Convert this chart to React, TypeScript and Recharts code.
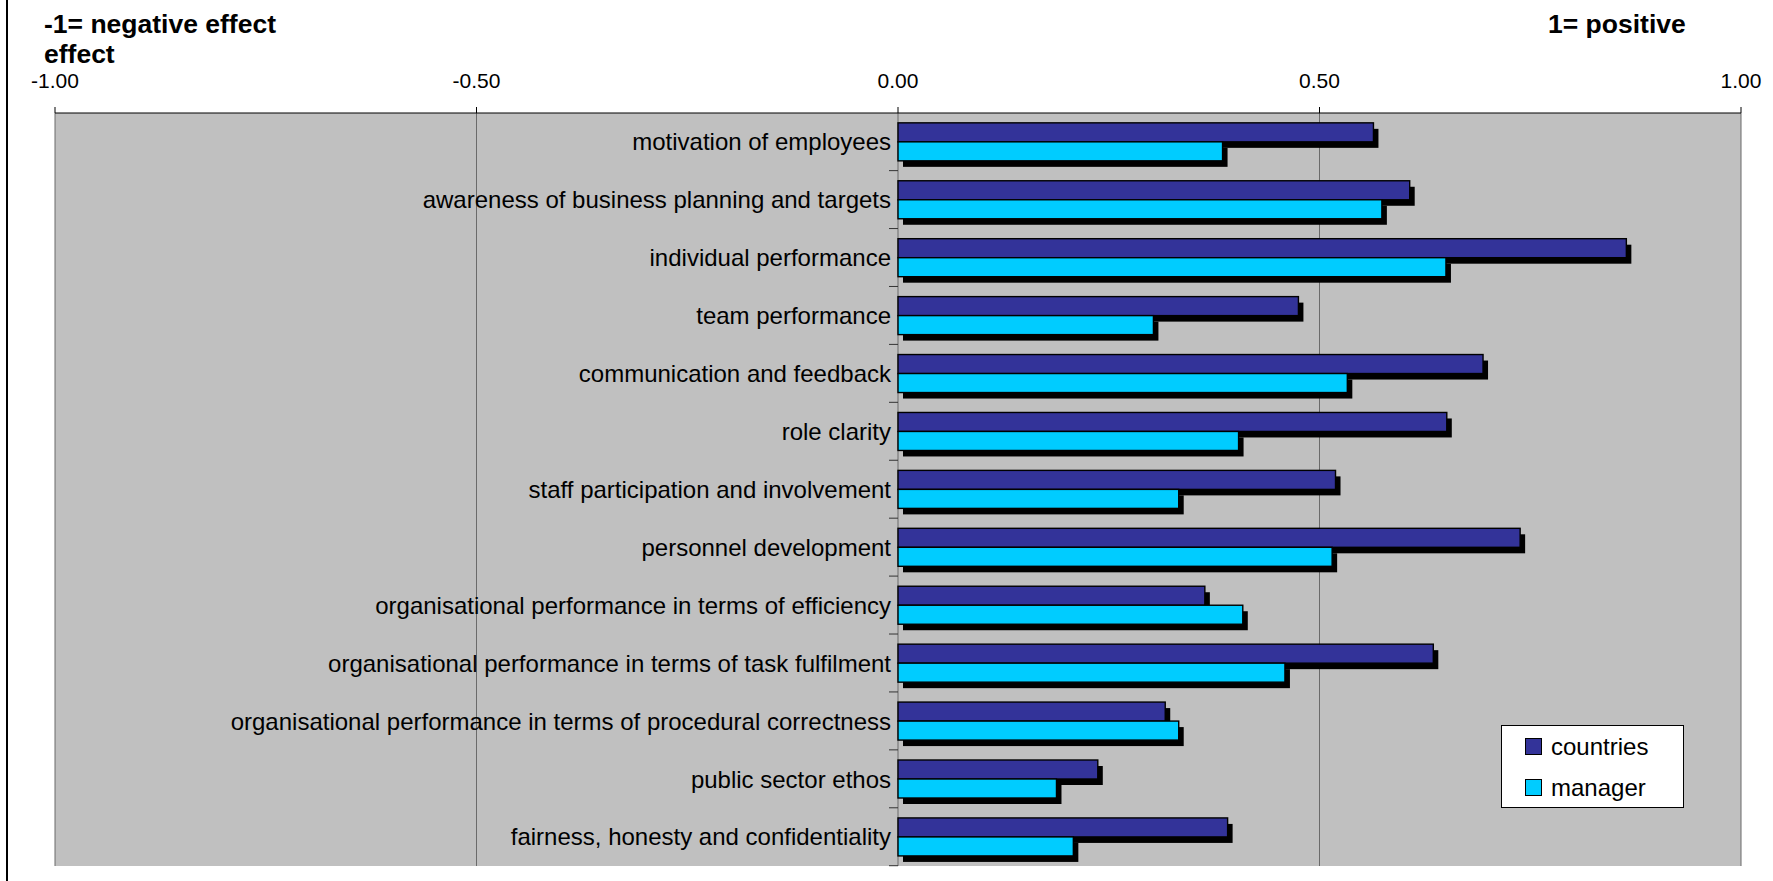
import { BarChart, Bar, XAxis, YAxis, CartesianGrid, Legend, LabelList } from "recharts";

const categories = [
  "motivation of employees",
  "awareness of business planning and targets",
  "individual performance",
  "team performance",
  "communication and feedback",
  "role clarity",
  "staff participation and involvement",
  "personnel development",
  "organisational performance in terms of efficiency",
  "organisational performance in terms of task fulfilment",
  "organisational performance in terms of procedural correctness",
  "public sector ethos",
  "fairness, honesty and confidentiality",
];

const countries = [0.564, 0.607, 0.864, 0.475, 0.694, 0.651, 0.519, 0.738, 0.364, 0.635, 0.317, 0.237, 0.391];
const manager = [0.385, 0.574, 0.65, 0.303, 0.533, 0.404, 0.333, 0.515, 0.409, 0.459, 0.333, 0.188, 0.208];

const xTicks = [-1, -0.5, 0, 0.5, 1];

const series = [
  { key: "countries", name: "countries", color: "#333399" },
  { key: "manager", name: "manager", color: "#00CCFF" },
];

const data = categories.map((name, i) => ({ name, countries: countries[i], manager: manager[i] }));

const FONT = '"Liberation Sans", Arial, Helvetica, sans-serif';

// bar with a hard black drop shadow, like the old Excel chart
const ShadowBar = (props: any) => {
  const { x, y, width, height, fill } = props;
  if (!width || width <= 0) return null;
  return (
    <g>
      <rect x={x + 5} y={y + 6} width={width} height={height} fill="#000" />
      <rect x={x} y={y} width={width} height={height} fill={fill} stroke="#000" strokeWidth={1.4} />
    </g>
  );
};

// category name sits just left of the zero line, plus a small tick at the band's lower edge
const CategoryLabel = (props: any) => {
  const vb = props.viewBox ?? props;
  const { x, y, height } = vb;
  const gap = (height * 17) / 33;
  const mid = y + height;
  const bottom = y + 2 * height + gap;
  return (
    <g>
      <text
        x={x - 7}
        y={mid}
        textAnchor="end"
        dominantBaseline="central"
        fontSize={24}
        fill="#000"
        fontFamily={FONT}
      >
        {props.value}
      </text>
      <line x1={x - 9} x2={x} y1={bottom} y2={bottom} stroke="#333" strokeWidth={1} />
    </g>
  );
};

const LegendBox = () => (
  <div
    style={{
      background: "#fff",
      border: "1px solid #000",
      width: 183,
      height: 83,
      boxSizing: "border-box",
      fontFamily: FONT,
    }}
  >
    {series.map((s) => (
      <div key={s.key} style={{ display: "flex", alignItems: "center", height: 41, paddingLeft: 23 }}>
        <span
          style={{
            width: 15,
            height: 15,
            background: s.color,
            border: "1.5px solid #000",
            display: "inline-block",
          }}
        />
        <span style={{ fontSize: 24, marginLeft: 9, color: "#000" }}>{s.name}</span>
      </div>
    ))}
  </div>
);

const App = () => {
  return (
    <div style={{ position: "absolute", left: 0, top: 0, width: 1773, height: 881, background: "#fff", fontFamily: FONT }}>
      <div style={{ position: "absolute", left: 6, top: 0, width: 2, height: 881, background: "#000" }} />
      <div
        style={{
          position: "absolute",
          left: 44,
          top: 9,
          fontSize: 26.5,
          lineHeight: "30px",
          fontWeight: "bold",
          color: "#000",
        }}
      >
        -1= negative effect
        <br />
        effect
      </div>
      <div
        style={{
          position: "absolute",
          left: 1548,
          top: 9,
          fontSize: 26.5,
          lineHeight: "30px",
          fontWeight: "bold",
          color: "#000",
        }}
      >
        1= positive
      </div>

      <BarChart
        width={1773}
        height={881}
        data={data}
        layout="vertical"
        margin={{ top: 73, left: 55, right: 32, bottom: 15 }}
        barCategoryGap="17%"
        barGap={0}
      >
        <CartesianGrid horizontal={false} stroke="#6a6a6a" fill="#C0C0C0" fillOpacity={1} />
        <XAxis
          type="number"
          orientation="top"
          domain={[-1, 1]}
          ticks={xTicks}
          tickFormatter={(v: number) => v.toFixed(2)}
          tick={{ fontSize: 21, fill: "#000", fontFamily: FONT }}
          tickSize={6}
          tickMargin={19}
          axisLine={{ stroke: "#000" }}
          tickLine={{ stroke: "#000" }}
          height={40}
          allowDataOverflow
        />
        <XAxis
          xAxisId="frame"
          type="number"
          orientation="bottom"
          domain={[-1, 1]}
          tick={false}
          tickLine={false}
          axisLine={{ stroke: "#808080", strokeWidth: 2 }}
          height={0}
        />
        <YAxis type="category" dataKey="name" hide width={0} />
        <Legend
          layout="vertical"
          align="center"
          verticalAlign="middle"
          content={<LegendBox />}
          wrapperStyle={{ left: 1501, top: 725, width: 183, height: 83 }}
        />
        <Bar dataKey="countries" name="countries" fill="#333399" shape={<ShadowBar />} isAnimationActive={false}>
          <LabelList dataKey="name" content={<CategoryLabel />} />
        </Bar>
        <Bar dataKey="manager" name="manager" fill="#00CCFF" shape={<ShadowBar />} isAnimationActive={false} />
      </BarChart>
    </div>
  );
};

export default App;
